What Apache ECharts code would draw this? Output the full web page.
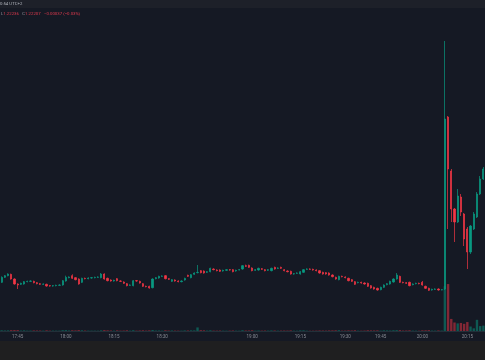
<!DOCTYPE html>
<html><head><meta charset="utf-8">
<script src="https://cdn.jsdelivr.net/npm/echarts@6/dist/echarts.min.js"></script>
<style>html,body{margin:0;padding:0;background:#151924;}#c{width:485px;height:360px;}</style>
</head><body><div id="c"></div>
<script>
// ---- data ----
const startTime = '17:40';
const endTime = '20:20';
const skippedMinutes = ['18:41','18:53','19:22','19:33','19:36','19:39','19:42','19:49','19:55','20:06'];
const tickLabels = ['17:45','18:00','18:15','18:30','19:00','19:15','19:30','19:45','20:00','20:15'];

const openP = [1.222600,1.222660,1.222680,1.222696,1.222640,1.222580,1.222576,1.222580,1.222608,1.222612,
1.222612,1.222596,1.222584,1.222576,1.222576,1.222560,1.222556,1.222560,1.222564,1.222568,
1.222616,1.222656,1.222680,1.222656,1.222640,1.222600,1.222648,1.222644,1.222652,1.222656,
1.222660,1.222656,1.222700,1.222648,1.222628,1.222616,1.222644,1.222616,1.222604,1.222584,
1.222564,1.222560,1.222620,1.222612,1.222584,1.222552,1.222552,1.222536,1.222644,1.222652,
1.222672,1.222680,1.222644,1.222612,1.222628,1.222616,1.222608,1.222628,1.222684,1.222656,
1.222696,1.222716,1.222740,1.222736,1.222720,1.222728,1.222760,1.222748,1.222748,1.222736,
1.222744,1.222752,1.222752,1.222736,1.222748,1.222760,1.222800,1.222804,1.222772,1.222744,
1.222748,1.222764,1.222752,1.222744,1.222740,1.222780,1.222768,1.222780,1.222752,1.222736,
1.222732,1.222700,1.222708,1.222700,1.222720,1.222756,1.222760,1.222756,1.222748,1.222740,
1.222720,1.222716,1.222712,1.222688,1.222660,1.222632,1.222672,1.222664,1.222648,1.222632,
1.222608,1.222596,1.222600,1.222592,1.222588,1.222560,1.222540,1.222528,1.222512,1.222540,
1.222572,1.222580,1.222604,1.222640,1.222672,1.222600,1.222596,1.222600,1.222572,1.222584,
1.222588,1.222600,1.222552,1.222528,1.222508,1.222516,1.222520,1.222508,1.222520,1.224584,
1.223936,1.223480,1.223324,1.223624,1.223420,1.223240,1.222964,1.223240,1.223384,1.223660,
1.223840];
const closeP = [1.222660,1.222680,1.222700,1.222640,1.222580,1.222568,1.222588,1.222608,1.222612,1.222616,
1.222596,1.222584,1.222576,1.222580,1.222556,1.222556,1.222560,1.222564,1.222568,1.222620,
1.222660,1.222664,1.222648,1.222632,1.222580,1.222648,1.222644,1.222652,1.222656,1.222660,
1.222664,1.222700,1.222640,1.222620,1.222616,1.222624,1.222620,1.222612,1.222588,1.222560,
1.222568,1.222620,1.222616,1.222592,1.222552,1.222548,1.222532,1.222640,1.222656,1.222672,
1.222676,1.222644,1.222636,1.222632,1.222616,1.222608,1.222616,1.222648,1.222672,1.222692,
1.222712,1.222720,1.222716,1.222712,1.222728,1.222768,1.222752,1.222740,1.222732,1.222744,
1.222752,1.222748,1.222728,1.222744,1.222752,1.222800,1.222792,1.222780,1.222740,1.222752,
1.222768,1.222756,1.222740,1.222752,1.222768,1.222760,1.222772,1.222768,1.222740,1.222728,
1.222700,1.222704,1.222712,1.222728,1.222752,1.222760,1.222756,1.222748,1.222740,1.222712,
1.222700,1.222700,1.222688,1.222668,1.222640,1.222672,1.222668,1.222656,1.222620,1.222612,
1.222576,1.222600,1.222592,1.222580,1.222552,1.222532,1.222520,1.222508,1.222540,1.222568,
1.222584,1.222612,1.222640,1.222688,1.222600,1.222596,1.222588,1.222560,1.222580,1.222588,
1.222584,1.222568,1.222528,1.222504,1.222516,1.222520,1.222508,1.222512,1.224560,1.223960,
1.223480,1.223324,1.223636,1.223444,1.223120,1.222964,1.223276,1.223420,1.223660,1.223840,
1.223960];
const lowP = [1.222592,1.222652,1.222672,1.222632,1.222572,1.222520,1.222568,1.222572,1.222600,1.222604,
1.222588,1.222576,1.222568,1.222568,1.222548,1.222548,1.222548,1.222552,1.222560,1.222560,
1.222608,1.222648,1.222640,1.222624,1.222572,1.222592,1.222636,1.222636,1.222644,1.222648,
1.222652,1.222648,1.222632,1.222612,1.222608,1.222608,1.222612,1.222604,1.222580,1.222552,
1.222556,1.222552,1.222608,1.222584,1.222544,1.222540,1.222524,1.222528,1.222636,1.222644,
1.222664,1.222636,1.222628,1.222604,1.222608,1.222600,1.222600,1.222620,1.222664,1.222648,
1.222688,1.222708,1.222708,1.222704,1.222712,1.222720,1.222744,1.222732,1.222724,1.222728,
1.222736,1.222740,1.222720,1.222728,1.222744,1.222752,1.222784,1.222772,1.222732,1.222736,
1.222740,1.222748,1.222732,1.222736,1.222732,1.222752,1.222760,1.222760,1.222732,1.222720,
1.222692,1.222692,1.222700,1.222692,1.222712,1.222748,1.222748,1.222740,1.222732,1.222704,
1.222692,1.222692,1.222680,1.222660,1.222632,1.222624,1.222660,1.222648,1.222612,1.222604,
1.222568,1.222588,1.222584,1.222572,1.222544,1.222524,1.222512,1.222500,1.222504,1.222532,
1.222564,1.222572,1.222596,1.222632,1.222592,1.222588,1.222580,1.222552,1.222564,1.222576,
1.222576,1.222560,1.222520,1.222496,1.222500,1.222508,1.222500,1.222504,1.222508,1.223240,
1.223324,1.223084,1.223312,1.223396,1.223036,1.222760,1.222940,1.223228,1.223372,1.223648,
1.223828];
const highP = [1.222672,1.222688,1.222708,1.222704,1.222648,1.222588,1.222596,1.222616,1.222620,1.222624,
1.222620,1.222604,1.222592,1.222588,1.222584,1.222568,1.222568,1.222572,1.222576,1.222628,
1.222680,1.222672,1.222696,1.222664,1.222648,1.222656,1.222656,1.222660,1.222664,1.222668,
1.222672,1.222712,1.222708,1.222656,1.222636,1.222632,1.222652,1.222624,1.222612,1.222592,
1.222576,1.222628,1.222628,1.222620,1.222592,1.222560,1.222560,1.222648,1.222664,1.222680,
1.222684,1.222688,1.222652,1.222640,1.222636,1.222624,1.222624,1.222656,1.222692,1.222700,
1.222720,1.222808,1.222748,1.222744,1.222736,1.222776,1.222768,1.222756,1.222756,1.222752,
1.222760,1.222760,1.222760,1.222752,1.222760,1.222808,1.222812,1.222812,1.222780,1.222760,
1.222776,1.222772,1.222760,1.222760,1.222776,1.222788,1.222780,1.222788,1.222760,1.222744,
1.222740,1.222712,1.222720,1.222736,1.222760,1.222768,1.222768,1.222764,1.222756,1.222748,
1.222728,1.222724,1.222720,1.222696,1.222668,1.222680,1.222680,1.222672,1.222656,1.222640,
1.222616,1.222608,1.222608,1.222600,1.222596,1.222568,1.222548,1.222536,1.222548,1.222576,
1.222592,1.222620,1.222648,1.222712,1.222680,1.222608,1.222604,1.222608,1.222588,1.222596,
1.222596,1.222616,1.222560,1.222536,1.222524,1.222528,1.222528,1.222520,1.225496,1.224596,
1.223960,1.223492,1.223720,1.223660,1.223432,1.223264,1.223288,1.223444,1.223684,1.223876,
1.223984];
const volumes = [16,12,14,18,20,19,11,15,9,10,
12,11,10,9,14,8,9,8,8,18,
20,12,15,13,19,16,10,9,8,8,
7,15,19,14,11,9,13,8,10,15,
9,18,8,11,15,9,14,22,11,12,
8,15,10,12,9,8,8,13,11,15,
14,80,18,15,10,16,9,8,10,8,
7,8,11,8,7,18,11,12,15,8,
11,8,10,9,13,11,8,9,10,9,
13,8,7,14,15,7,6,7,8,11,
10,9,12,13,15,18,8,9,13,11,
16,8,7,9,15,13,12,14,9,15,
13,11,17,19,18,10,11,15,9,8,
7,14,15,18,10,9,12,10,
1000,1050,270,190,170,180,160,200,100,60,250,110,120];
const priceLine = 1.223372;
const headerTime = '0:54 UTC+2';
const headerLow = '1.22236';
const headerClose = '1.22207';
const headerChange = '\u22120.00037 (\u22120.03%)';

// ---- build ----
function toMin(s){const p=s.split(':');return +p[0]*60+ +p[1];}
function fmt(m){const h=Math.floor(m/60), mm=m%60;return h+':'+(mm<10?'0':'')+mm;}
const categories=[];
for(let m=toMin(startTime);m<=toMin(endTime);m++){const s=fmt(m); if(skippedMinutes.indexOf(s)<0) categories.push(s);}

const UP='#089981', DOWN='#f23645';
const kData = openP.map((o,i)=>[o, closeP[i], lowP[i], highP[i]]);
const volData = volumes.map((v,i)=>({value:v, itemStyle:{color: closeP[i]>=openP[i]?'rgba(8,153,129,0.5)':'rgba(242,54,69,0.5)'}}));

const chart = echarts.init(document.getElementById('c'), null, {renderer:'canvas'});
chart.setOption({
  animation:false,
  backgroundColor:'#151924',
  grid:{left:0,right:0,top:9,bottom:29},
  xAxis:{type:'category',data:categories,boundaryGap:true,
    axisLine:{show:true,lineStyle:{color:'#22303a',width:1}},
    axisTick:{show:false},
    splitLine:{show:false},
    axisLabel:{interval:(idx,val)=>tickLabels.indexOf(val)>=0,fontSize:4.5,color:'#8a8d96',margin:3,fontFamily:'Roboto'}},
  yAxis:[
    {type:'value',min:1.222016,max:1.22588,show:false,splitLine:{show:false}},
    {type:'value',min:0,max:7200,show:false,splitLine:{show:false}}
  ],
  series:[
    {type:'bar',yAxisIndex:1,data:volData,barWidth:2.4,z:1,silent:true},
    {type:'candlestick',data:kData,barWidth:1.7,z:3,silent:true,
      itemStyle:{color:UP,color0:DOWN,borderColor:UP,borderColor0:DOWN,borderWidth:0.7},
      markLine:{silent:true,symbol:['none','none'],label:{show:false},z:2,
        lineStyle:{color:'rgba(190,75,90,0.45)',width:0.8,type:'solid'},
        data:[{yAxis:priceLine}]}}
  ],
  graphic:[
    {type:'rect',shape:{x:0,y:0,width:485,height:8},style:{fill:'#1d2029'},z:0,silent:true},
    {type:'rect',shape:{x:0,y:341,width:485,height:19},style:{fill:'#1f1f20'},z:0,silent:true},
    {type:'text',x:0,y:4,style:{text:headerTime,fill:'#b2b5be',fontSize:4.3,fontFamily:'Roboto',verticalAlign:'middle'},z:10},
    {type:'text',x:1,y:14,style:{
      text:'{g|L}{r|'+headerLow+'} {g|C}{r|'+headerClose+'} {r|'+headerChange+'}',
      rich:{g:{fill:'#9598a1',fontSize:4.3,fontFamily:'Roboto'},r:{fill:'#e03a4e',fontSize:4.3,fontFamily:'Roboto'}},
      verticalAlign:'middle'},z:10}
  ]
});
</script></body></html>
